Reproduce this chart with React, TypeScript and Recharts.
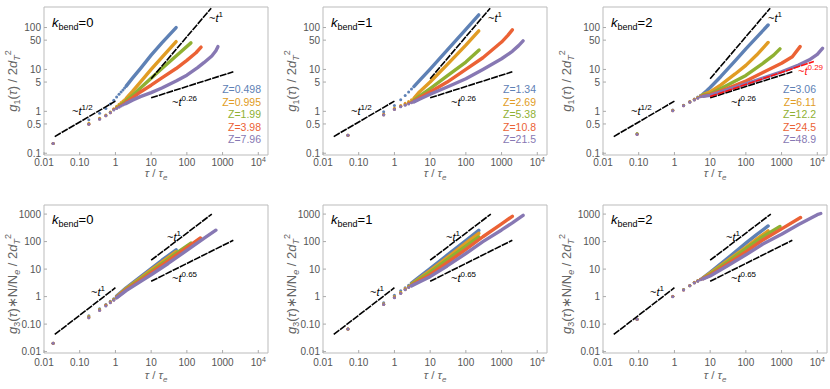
import React from "react";
import { ScatterChart, Scatter, XAxis, YAxis, ReferenceArea } from "recharts";

type Pt = [number, number];

const FONT = '"Liberation Sans", Arial, sans-serif';
const COLORS = ["#5e81b5", "#e19c24", "#8fb032", "#eb6235", "#8778b3"];

// axes
const xTicks = [0.01, 0.1, 1, 10, 100, 1000, 10000];
const xTickLabels = ["0.01", "0.10", "1", "10", "100", "1000", "10^4"];
const g1Ticks = [0.1, 0.5, 1, 5, 10, 50, 100];
const g1TickLabels = ["0.1", "0.5", "1", "5", "10", "50", "100"];
const g3Ticks = [0.01, 0.1, 1, 10, 100, 1000];
const g3TickLabels = ["0.01", "0.10", "1", "10", "100", "1000"];
const X_DOMAIN = [0.01, 18700];
const G1_DOMAIN = [0.0908, 309];
const G3_DOMAIN = [0.0089, 2140];

// legend labels
const zK0 = ["Z=0.498", "Z=0.995", "Z=1.99", "Z=3.98", "Z=7.96"];
const zK1 = ["Z=1.34", "Z=2.69", "Z=5.38", "Z=10.8", "Z=21.5"];
const zK2 = ["Z=3.06", "Z=6.11", "Z=12.2", "Z=24.5", "Z=48.9"];

// g1, k_bend = 0
const g1k0T = [0.018, 0.18, 0.36, 0.54, 0.72, 0.9, 1.08, 1.26, 1.44, 1.62, 1.8];
const g1k0Early = [
  [0.17, 0.63, 0.9, 1.17, 1.5, 1.85, 2.2, 2.55, 2.9, 3.25, 3.6],
  [0.17, 0.52, 0.68, 0.82, 0.97, 1.15, 1.32, 1.48, 1.62, 1.76, 1.9],
  [0.17, 0.5, 0.67, 0.8, 0.95, 1.12, 1.25, 1.37, 1.48, 1.58, 1.68],
  [0.17, 0.49, 0.66, 0.79, 0.93, 1.1, 1.2, 1.3, 1.4, 1.48, 1.56],
  [0.17, 0.49, 0.65, 0.78, 0.92, 1.08, 1.17, 1.26, 1.34, 1.41, 1.48],
];
const g1k0Curves: Pt[][] = [
  [[2, 4.0], [3, 6.2], [5, 10.5], [10, 22], [20, 43], [50, 100]],
  [[2, 2.05], [3, 3.0], [5, 5.0], [10, 10], [20, 19.5], [50, 46]],
  [[2, 1.8], [3, 2.4], [5, 3.6], [10, 6.2], [20, 10.5], [50, 21], [130, 43]],
  [[2, 1.65], [3, 2.1], [5, 2.9], [10, 4.2], [20, 6.3], [50, 10.5], [100, 16.5], [180, 25], [250, 34]],
  [[2, 1.55], [3, 1.85], [5, 2.25], [10, 2.8], [20, 3.6], [50, 5.3], [100, 7.3], [200, 11], [300, 14.5], [500, 21], [650, 28], [740, 35]],
];

// g1, k_bend = 1
const g1k1T = [0.05, 0.5, 1, 1.5, 2, 2.5, 3];
const g1k1Early = [
  [0.27, 0.98, 1.38, 1.9, 2.4, 2.9, 3.4],
  [0.27, 0.85, 1.18, 1.38, 1.55, 1.72, 1.9],
  [0.27, 0.83, 1.13, 1.32, 1.45, 1.58, 1.7],
  [0.27, 0.83, 1.12, 1.3, 1.43, 1.55, 1.65],
  [0.27, 0.82, 1.1, 1.28, 1.4, 1.5, 1.6],
];
const g1k1Curves: Pt[][] = [
  [[3.5, 3.9], [5, 5.4], [10, 10.2], [30, 29], [100, 90], [230, 200]],
  [[3.5, 2.05], [5, 2.9], [10, 5], [30, 13], [100, 38], [230, 83]],
  [[3.5, 1.82], [5, 2.3], [10, 3.5], [30, 7], [100, 15], [235, 29]],
  [[3.5, 1.75], [5, 2.1], [10, 2.9], [30, 5], [100, 10], [300, 19], [1000, 45], [1500, 65], [2000, 88]],
  [[3.5, 1.68], [5, 1.95], [10, 2.55], [30, 3.8], [100, 6], [300, 10], [1000, 18], [2000, 27], [3000, 37], [4000, 48]],
];

// g1, k_bend = 2
const g1k2T = [0.09, 0.9, 1.8, 2.7, 3.6, 4.5, 5.4];
const g1k2Early = [
  [0.29, 1.07, 1.4, 1.72, 1.97, 2.2, 2.42],
  [0.29, 1.06, 1.38, 1.69, 1.93, 2.14, 2.35],
  [0.29, 1.05, 1.37, 1.67, 1.9, 2.1, 2.3],
  [0.28, 1.04, 1.36, 1.66, 1.88, 2.08, 2.27],
  [0.28, 1.04, 1.36, 1.65, 1.87, 2.06, 2.22],
];
const g1k2Curves: Pt[][] = [
  [[6.3, 2.6], [8, 3.1], [10, 3.7], [20, 6.8], [50, 16], [100, 31], [200, 58], [420, 115]],
  [[6.3, 2.5], [10, 2.9], [20, 4.3], [50, 7.8], [100, 12.5], [200, 22], [420, 44]],
  [[6.3, 2.45], [10, 2.6], [30, 4.2], [100, 7.2], [300, 14], [600, 22], [900, 31]],
  [[6.3, 2.32], [10, 2.5], [30, 3.5], [100, 5.3], [300, 8.5], [1000, 14], [2000, 20], [3300, 35]],
  [[6.3, 2.28], [10, 2.4], [30, 3.25], [100, 4.5], [300, 6.2], [1000, 8.8], [3000, 12.7], [6000, 17], [10000, 23], [14000, 32]],
];

// g3, k_bend = 0
const g3k0T = [0.018, 0.18, 0.36, 0.54, 0.72, 0.9];
const g3k0Early = [
  [0.02, 0.2, 0.36, 0.52, 0.68, 0.84],
  [0.02, 0.19, 0.34, 0.5, 0.65, 0.8],
  [0.02, 0.18, 0.33, 0.48, 0.63, 0.78],
  [0.02, 0.17, 0.32, 0.47, 0.61, 0.76],
  [0.02, 0.17, 0.31, 0.46, 0.6, 0.74],
];
const g3k0Curves: Pt[][] = [
  [[1.08, 1.05], [2, 2.1], [5, 5.2], [10, 10.5], [20, 21], [50, 50]],
  [[1.08, 0.98], [2, 1.95], [5, 4.7], [10, 9.3], [20, 18], [50, 43]],
  [[1.08, 0.95], [2, 1.85], [5, 4.3], [10, 8.2], [30, 23], [60, 44], [130, 88]],
  [[1.08, 0.93], [2, 1.75], [5, 3.9], [10, 7.3], [30, 20], [100, 60], [240, 135]],
  [[1.08, 0.9], [2, 1.65], [5, 3.5], [10, 6.2], [30, 16], [100, 48], [300, 130], [650, 260]],
];

// g3, k_bend = 1
const g3k1T = [0.05, 0.5, 1, 1.5, 2, 2.5];
const g3k1Early = [
  [0.066, 0.6, 1.12, 1.62, 2.1, 2.6],
  [0.066, 0.55, 1.0, 1.45, 1.95, 2.4],
  [0.066, 0.53, 0.95, 1.38, 1.85, 2.3],
  [0.066, 0.52, 0.92, 1.33, 1.8, 2.2],
  [0.066, 0.52, 0.9, 1.3, 1.78, 2.15],
];
const g3k1Curves: Pt[][] = [
  [[3, 3.1], [5, 5.2], [10, 10.5], [30, 32], [100, 108], [230, 255]],
  [[3, 2.85], [5, 4.6], [10, 8.8], [30, 26], [100, 88], [230, 200]],
  [[3, 2.7], [5, 4.3], [10, 7.8], [30, 22], [100, 68], [230, 148]],
  [[3, 2.55], [5, 3.8], [10, 6.3], [30, 17], [100, 52], [300, 150], [1000, 440], [2000, 830]],
  [[3, 2.45], [5, 3.4], [10, 5.3], [30, 13], [100, 37], [300, 100], [1000, 265], [2000, 480], [4000, 900]],
];

// g3, k_bend = 2
const g3k2T = [0.09, 0.9, 1.8, 2.7, 3.6, 4.5, 5.4];
const g3k2Early = [
  [0.15, 1.02, 1.8, 2.55, 3.3, 3.85, 4.35],
  [0.15, 1.01, 1.78, 2.52, 3.25, 3.78, 4.28],
  [0.15, 1.0, 1.76, 2.5, 3.2, 3.72, 4.22],
  [0.15, 1.0, 1.75, 2.48, 3.17, 3.68, 4.17],
  [0.15, 0.99, 1.74, 2.46, 3.15, 3.65, 4.12],
];
const g3k2Curves: Pt[][] = [
  [[6.3, 4.8], [10, 7.6], [30, 24], [100, 88], [200, 180], [420, 370]],
  [[6.3, 4.7], [10, 7.1], [30, 20], [100, 62], [200, 122], [420, 245]],
  [[6.3, 4.6], [10, 6.5], [30, 18], [100, 55], [300, 150], [900, 355]],
  [[6.3, 4.5], [10, 6], [30, 15], [100, 42], [300, 115], [1000, 290], [3400, 750]],
  [[6.3, 4.4], [10, 5.6], [30, 13], [100, 33], [300, 82], [1000, 185], [3000, 420], [10000, 950], [12500, 1050]],
];

// power-law guide segments (end points)
const guideHalf: Pt[] = [[0.02, 0.25], [1, 1.75]];
const guideOneG1: Pt[] = [[10, 6], [480, 290]];
const guide026: Pt[] = [[10, 2.1], [2000, 8.8]];
const guide029: Pt[] = [[10, 2.25], [8000, 15.5]];
const guideOneLow: Pt[] = [[0.02, 0.042], [1, 2.1]];
const guideOneHigh: Pt[] = [[10, 21], [500, 1000]];
const guide065: Pt[] = [[10, 3.6], [2000, 112]];

const FRAME_W = 224;
const FRAME_H = 148;
const Y_AXIS_W = 44;

const toPts = (p: Pt[]) => p.map(([x, y]) => ({ x, y }));
const zipPts = (ts: number[], ys: number[]) => ts.map((x, i) => ({ x, y: ys[i] }));

interface PanelSpec {
  left: number;
  right: number;
  top: boolean;
  k: string;
  t: number[];
  early: number[][];
  curves: Pt[][];
  z: string[] | null;
  legendX: number;
  titleX: number;
  red029?: boolean;
}

const PANELS: PanelSpec[] = [
  { left: 0, right: 9, top: true, k: "0", t: g1k0T, early: g1k0Early, curves: g1k0Curves, z: zK0, legendX: 217, titleX: 17 },
  { left: 279, right: 9, top: true, k: "1", t: g1k1T, early: g1k1Early, curves: g1k1Curves, z: zK1, legendX: 213, titleX: 17 },
  { left: 559, right: 3, top: true, k: "2", t: g1k2T, early: g1k2Early, curves: g1k2Curves, z: zK2, legendX: 213, titleX: 12, red029: true },
  { left: 0, right: 9, top: false, k: "0", t: g3k0T, early: g3k0Early, curves: g3k0Curves, z: null, legendX: 0, titleX: 17 },
  { left: 279, right: 9, top: false, k: "1", t: g3k1T, early: g3k1Early, curves: g3k1Curves, z: null, legendX: 0, titleX: 17 },
  { left: 559, right: 3, top: false, k: "2", t: g3k2T, early: g3k2Early, curves: g3k2Curves, z: null, legendX: 0, titleX: 12 },
];

const XTick = (props: any) => {
  const { x, y, payload } = props;
  const label = xTickLabels[xTicks.indexOf(payload.value)] ?? "";
  const [base, exp] = label.split("^");
  return (
    <text x={x} y={y} dy="0.71em" textAnchor="middle" fontSize={10} fill="#555" fontFamily={FONT}>
      {base}
      {exp && (
        <tspan dy={-4} fontSize={7} fill="#555">
          {exp}
        </tspan>
      )}
    </text>
  );
};

const dotShape = (color: string) => (p: any) => <circle cx={p.cx} cy={p.cy} r={1.5} fill={color} />;
const noShape = () => <g />;

const Pow = ({ x, y, exp, color = "#000" }: { x: number; y: number; exp: string; color?: string }) => (
  <text x={x} y={y} fontSize={11} fill={color} fontFamily={FONT}>
    ~
    <tspan fontStyle="italic" fill={color}>
      t
    </tspan>
    <tspan fontSize={8} dy={-5} fill={color}>
      {exp}
    </tspan>
  </text>
);

function Panel({ spec }: { spec: PanelSpec }) {
  const height = spec.top ? 190 : 199;
  const mTop = spec.top ? 7 : 15;
  const xH = height - mTop - FRAME_H;
  const width = Y_AXIS_W + FRAME_W + spec.right;
  const yTicks = spec.top ? g1Ticks : g3Ticks;
  const yLabels = spec.top ? g1TickLabels : g3TickLabels;
  const yDomain = spec.top ? G1_DOMAIN : G3_DOMAIN;
  const guides: { pts: Pt[]; color: string }[] = spec.top
    ? [
        { pts: guideHalf, color: "#000" },
        { pts: guideOneG1, color: "#000" },
        { pts: guide026, color: "#000" },
        ...(spec.red029 ? [{ pts: guide029, color: "#ff1010" }] : []),
      ]
    : [
        { pts: guideOneLow, color: "#000" },
        { pts: guideOneHigh, color: "#000" },
        { pts: guide065, color: "#000" },
      ];
  const ty = mTop + FRAME_H / 2 + (spec.top ? 0 : 5);

  return (
    <div style={{ position: "absolute", left: spec.left, top: spec.top ? 0 : 190, width, height }}>
      <ScatterChart width={width} height={height} margin={{ top: mTop, right: spec.right, bottom: 0, left: 0 }}>
        <XAxis
          type="number"
          dataKey="x"
          scale="log"
          domain={X_DOMAIN}
          allowDataOverflow
          ticks={xTicks}
          interval={0}
          height={xH}
          axisLine={false}
          tickLine={{ stroke: "#aaa" }}
          tickSize={-3}
          tickMargin={spec.top ? 7 : 9}
          tick={(p: any) => <XTick {...p} />}
        />
        <YAxis
          type="number"
          dataKey="y"
          scale="log"
          domain={yDomain}
          allowDataOverflow
          ticks={yTicks}
          interval={0}
          width={Y_AXIS_W}
          axisLine={false}
          tickLine={{ stroke: "#aaa" }}
          tickSize={-3}
          tickMargin={6}
          tickFormatter={(v: number) => yLabels[yTicks.indexOf(v)] ?? ""}
          tick={{ fontSize: 10, fill: "#555", fontFamily: FONT }}
        />
        <ReferenceArea x1={X_DOMAIN[0]} x2={X_DOMAIN[1]} y1={yDomain[0]} y2={yDomain[1]} fill="none" stroke="#bbb" strokeWidth={1} />
        {spec.early.map((ys, j) => (
          <Scatter key={"e" + j} data={zipPts(spec.t, ys)} fill={COLORS[j]} shape={dotShape(COLORS[j])} isAnimationActive={false} />
        ))}
        {spec.curves.map((c, j) => (
          <Scatter
            key={"c" + j}
            data={toPts(c)}
            fill={COLORS[j]}
            line={{ stroke: COLORS[j], strokeWidth: 3.4, strokeLinejoin: "round", strokeLinecap: "round" }}
            shape={noShape}
            isAnimationActive={false}
          />
        ))}
        {guides.map((g, j) => (
          <Scatter
            key={"g" + j}
            data={toPts(g.pts)}
            fill={g.color}
            line={{ stroke: g.color, strokeWidth: 1.6, strokeDasharray: "7 1" }}
            shape={noShape}
            isAnimationActive={false}
          />
        ))}
      </ScatterChart>
      <svg
        width={width}
        height={height}
        overflow="visible"
        style={{ position: "absolute", left: 0, top: 0, pointerEvents: "none", overflow: "visible" }}
        fontFamily={FONT}
      >
        <g transform={`translate(${Y_AXIS_W},${mTop})`}>
          <text x={8} y={spec.top ? 20 : 19} fontSize={13} fill="#000">
            <tspan fontStyle="italic">k</tspan>
            <tspan fontSize={9} dy={3}>
              bend
            </tspan>
            <tspan dy={-3}>={spec.k}</tspan>
          </text>
          {spec.top ? (
            <>
              <Pow x={28} y={108} exp="1/2" />
              <Pow x={165} y={15} exp="1" />
              <Pow x={128} y={99} exp="0.26" />
              {spec.red029 && <Pow x={195} y={68} exp="0.29" color="#ff1010" />}
            </>
          ) : (
            <>
              <Pow x={47} y={91} exp="1" />
              <Pow x={123} y={36} exp="1" />
              <Pow x={128} y={77} exp="0.65" />
            </>
          )}
          {spec.z &&
            spec.z.map((lab, j) => (
              <text key={j} x={spec.legendX} y={86 + j * 12.5} textAnchor="end" fontSize={10.5} fill={COLORS[j]}>
                {lab}
              </text>
            ))}
          <text x={FRAME_W / 2} y={FRAME_H + (spec.top ? 22 : 26)} textAnchor="middle" fontSize={11.5} fill="#666">
            <tspan fontStyle="italic">τ</tspan>
            {"  /  "}
            <tspan fontStyle="italic">τ</tspan>
            <tspan fontSize={8} dy={3} fontStyle="italic">
              e
            </tspan>
          </text>
        </g>
        {spec.top ? (
          <text
            x={spec.titleX}
            y={ty}
            transform={`rotate(-90 ${spec.titleX} ${ty})`}
            textAnchor="middle"
            fontSize={13}
            fill="#666"
          >
            <tspan fontStyle="italic">g</tspan>
            <tspan fontSize={9} dy={3}>1</tspan>
            <tspan dy={-3}>(</tspan>
            <tspan fontStyle="italic">τ</tspan>
            <tspan>{")  /  2"}</tspan>
            <tspan fontStyle="italic">d</tspan>
            <tspan fontSize={9} fontStyle="italic" dy={3}>T</tspan>
            <tspan fontSize={9} dy={-9}>2</tspan>
          </text>
        ) : (
          <text
            x={spec.titleX}
            y={ty}
            transform={`rotate(-90 ${spec.titleX} ${ty})`}
            textAnchor="middle"
            fontSize={13}
            fill="#666"
          >
            <tspan fontStyle="italic">g</tspan>
            <tspan fontSize={9} dy={3}>3</tspan>
            <tspan dy={-3}>(</tspan>
            <tspan fontStyle="italic">τ</tspan>
            <tspan>{")∗N/N"}</tspan>
            <tspan fontSize={9} fontStyle="italic" dy={3}>e</tspan>
            <tspan dy={-3}>{" / 2"}</tspan>
            <tspan fontStyle="italic">d</tspan>
            <tspan fontSize={9} fontStyle="italic" dy={3}>T</tspan>
            <tspan fontSize={9} dy={-9}>2</tspan>
          </text>
        )}
      </svg>
    </div>
  );
}

export default function App() {
  return (
    <div style={{ position: "absolute", left: 0, top: 0, width: 830, height: 389, background: "#fff", fontFamily: FONT }}>
      {PANELS.map((p, i) => (
        <Panel key={i} spec={p} />
      ))}
    </div>
  );
}
